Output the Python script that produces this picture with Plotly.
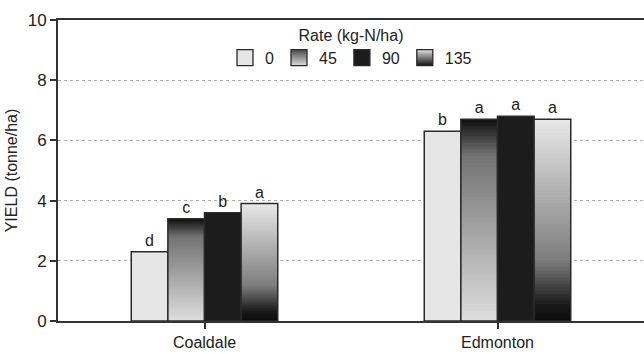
import plotly.graph_objects as go

sites = ["Coaldale", "Edmonton"]
rates = ["0", "45", "90", "135"]
yield_0 = [2.3, 6.3]
yield_45 = [3.4, 6.7]
yield_90 = [3.6, 6.8]
yield_135 = [3.9, 6.7]
letters_0 = ["d", "b"]
letters_45 = ["c", "a"]
letters_90 = ["b", "a"]
letters_135 = ["a", "a"]

series = [
    ("0", yield_0, letters_0),
    ("45", yield_45, letters_45),
    ("90", yield_90, letters_90),
    ("135", yield_135, letters_135),
]

FONT = "Liberation Sans, Arial, sans-serif"
EDGE = "#2a2a2a"
N = 60

# gradient stops (fraction from bottom, grey level)
STOPS_45 = [(0.0, 222), (0.82, 115), (0.9, 70), (1.0, 14)]
STOPS_135 = [(0.0, 12), (0.08, 25), (0.3, 125), (1.0, 232)]


def interp(stops, t):
    for (t0, g0), (t1, g1) in zip(stops[:-1], stops[1:]):
        if t <= t1:
            f = (t - t0) / (t1 - t0) if t1 > t0 else 0
            return g0 + (g1 - g0) * f
    return stops[-1][1]


def grad_color(name, t):
    g = round(interp(STOPS_45 if name == "45" else STOPS_135, t))
    return "rgb(%d,%d,%d)" % (g, g, g)


fig = go.Figure()

for name, vals, lets in series:
    if name in ("0", "90"):
        col = "#e6e6e6" if name == "0" else "#1c1c1c"
        fig.add_trace(go.Bar(
            x=sites, y=vals, offsetgroup=name, name=name, showlegend=False,
            marker=dict(color=col, line=dict(color=EDGE, width=1.5)),
            text=lets, textposition="outside",
            textfont=dict(family=FONT, size=16, color="#222"),
            cliponaxis=False, hoverinfo="skip",
        ))
    else:
        for i in range(N):
            c = grad_color(name, (i + 0.5) / N)
            ext = 1.0 if i == N - 1 else 2.0
            fig.add_trace(go.Bar(
                x=sites, y=[v * ext / N for v in vals], base=[v * i / N for v in vals],
                offsetgroup=name, showlegend=False,
                marker=dict(color=c, line=dict(width=0)),
                hoverinfo="skip",
            ))
        fig.add_trace(go.Bar(
            x=sites, y=vals, offsetgroup=name, showlegend=False,
            marker=dict(color="rgba(0,0,0,0)", line=dict(color=EDGE, width=1.5)),
            text=lets, textposition="outside",
            textfont=dict(family=FONT, size=16, color="#222"),
            cliponaxis=False, hoverinfo="skip",
        ))

# legend entries (marker colour = top, gradient colour = bottom)
leg_style = {
    "0": dict(color="#e6e6e6"),
    "45": dict(color="#4a4a4a", gradient=dict(type="vertical", color="#dcdcdc")),
    "90": dict(color="#1c1c1c"),
    "135": dict(color="#e2e2e2", gradient=dict(type="vertical", color="#101010")),
}
for name in rates:
    fig.add_trace(go.Scatter(
        x=[None], y=[None], mode="markers", name=name,
        marker=dict(symbol="square", size=16, line=dict(color=EDGE, width=1.3), **leg_style[name]),
    ))

fig.update_layout(
    width=644, height=354,
    margin=dict(l=58, r=0, t=20, b=33),
    paper_bgcolor="white", plot_bgcolor="white",
    barmode="group", bargap=0.5, bargroupgap=0,
    font=dict(family=FONT, size=15, color="#222"),
    showlegend=True,
    legend=dict(
        orientation="h", x=0.5, xanchor="center", y=1.0, yanchor="top",
        title=dict(text="Rate (kg-N/ha)", side="top center", font=dict(size=16)),
        font=dict(size=16), itemsizing="trace", bgcolor="rgba(0,0,0,0)",
        itemwidth=30,
    ),
    xaxis=dict(
        type="category", range=[-0.5, 1.5],
        showline=True, linecolor="#333", linewidth=2, mirror=True,
        ticks="outside", ticklen=6, tickcolor="#333", tickwidth=1.5,
        tickfont=dict(size=16), showgrid=False,
    ),
    yaxis=dict(
        range=[0, 10], tickvals=[0, 2, 4, 6, 8, 10],
        showline=True, linecolor="#333", linewidth=2,
        ticks="outside", ticklen=6, tickcolor="#333", tickwidth=1.5,
        tickfont=dict(size=17),
        showgrid=True, gridcolor="#b0b0b0", griddash="dot", gridwidth=1,
        zeroline=False,
        title=dict(text="YIELD (tonne/ha)", font=dict(size=16), standoff=6),
    ),
)

fig.write_html(
    "out.html",
    config={"displayModeBar": False},
    post_script="document.body.style.margin='0';document.body.style.overflow='hidden';",
)
